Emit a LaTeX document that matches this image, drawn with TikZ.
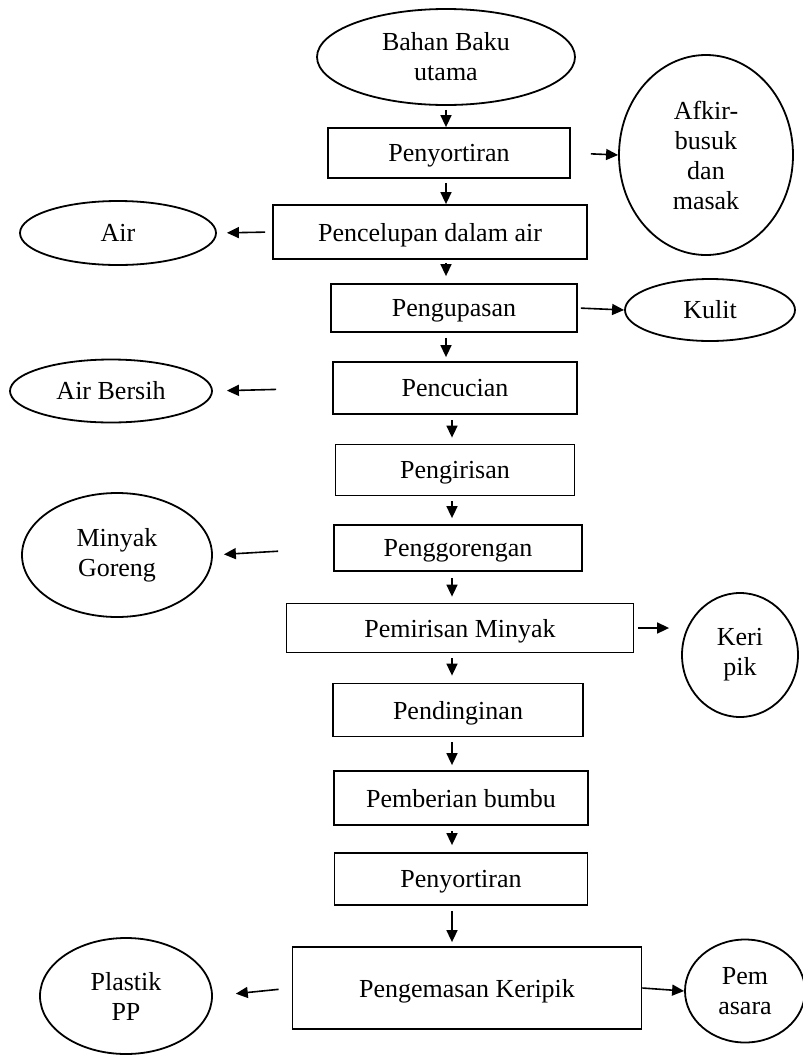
\documentclass[tikz,border=0pt]{standalone}
\usepackage{fontspec}
\setmainfont{Liberation Serif}
\usetikzlibrary{shapes.geometric,arrows.meta}
\begin{document}
\begin{tikzpicture}[x=0.5pt,y=-0.5pt,
  font=\fontsize{13}{15}\selectfont,
  proses/.style={draw, line width=0.9pt, inner sep=0pt, text depth=0pt},
  hasil/.style={draw, ellipse, line width=0.9pt, inner sep=0pt, align=center},
  panah/.style={line width=0.8pt, -{Triangle[length=6pt,width=5.5pt]}}]
\useasboundingbox (0,0) rectangle (803,1055);
\coordinate (jalur) at (446,0);
\coordinate (jalurb) at (452,0);
\node[hasil, minimum width=129pt, minimum height=48pt] (bahan) at (446,57) {Bahan Baku\\utama};
\node[proses, minimum width=121pt, minimum height=25pt] (sortir) at (449,153) {Penyortiran};
\node[hasil, minimum width=87pt, minimum height=100pt] (afkir) at (706,155) {Afkir-\\busuk\\dan\\masak};
\node[proses, minimum width=157pt, minimum height=27pt] (celup) at (430,232) {Pencelupan dalam air};
\node[hasil, minimum width=98pt, minimum height=32pt] (air) at (118,233) {Air};
\node[proses, minimum width=123pt, minimum height=24pt] (kupas) at (454,308) {Pengupasan};
\node[hasil, minimum width=85pt, minimum height=31pt] (kulit) at (710,310) {Kulit};
\node[proses, minimum width=122pt, minimum height=26pt] (cuci) at (455,388) {Pencucian};
\node[hasil, minimum width=101pt, minimum height=31.5pt] (airbersih) at (111,391) {Air Bersih};
\node[proses, minimum width=119.5pt, minimum height=25.5pt] (iris) at (455,470) {Pengirisan};
\node[proses, minimum width=124pt, minimum height=23pt] (goreng) at (458,548) {Penggorengan};
\node[hasil, minimum width=95pt, minimum height=62pt] (minyak) at (117,555) {Minyak\\Goreng};
\node[proses, minimum width=173.5pt, minimum height=24.5pt] (tiris) at (460,628) {Pemirisan Minyak};
\node[hasil, minimum width=58pt, minimum height=62pt] (keripik) at (740,655) {Keri\\pik};
\node[proses, minimum width=125pt, minimum height=26.5pt] (dingin) at (458,710) {Pendinginan};
\node[proses, minimum width=127pt, minimum height=27pt] (bumbu) at (461,798) {Pemberian bumbu};
\node[proses, minimum width=126.5pt, minimum height=26pt] (sortir2) at (461,879) {Penyortiran};
\node[proses, minimum width=174.5pt, minimum height=41pt] (kemas) at (467,988) {Pengemasan Keripik};
\node[hasil, minimum width=60pt, minimum height=51.5pt] (pemasaran) at (745,991) {Pem\\asara};
\node[hasil, minimum width=86pt, minimum height=58pt] (plastik) at (126,996) {Plastik\\PP};
\draw[panah, shorten <=2pt] (bahan.south -| jalur) -- (sortir.north -| jalur);
\draw[panah, shorten <=2pt] (sortir.south -| jalur) -- (celup.north -| jalur);
\draw[panah, shorten <=1.5pt, shorten >=3.5pt] (celup.south -| jalur) -- (kupas.north -| jalur);
\draw[panah, shorten <=2.5pt, shorten >=2pt] (kupas.south -| jalur) -- (cuci.north -| jalur);
\draw[panah, shorten <=2.5pt, shorten >=3pt] (cuci.south -| jalurb) -- (iris.north -| jalurb);
\draw[panah, shorten <=2.5pt, shorten >=3pt] (iris.south -| jalurb) -- (goreng.north -| jalurb);
\draw[panah, shorten <=3pt, shorten >=3pt] (goreng.south -| jalurb) -- (tiris.north -| jalurb);
\draw[panah, shorten <=2.5pt, shorten >=3.5pt] (tiris.south -| jalurb) -- (dingin.north -| jalurb);
\draw[panah, shorten <=2.5pt, shorten >=2.5pt] (dingin.south -| jalurb) -- (bumbu.north -| jalurb);
\draw[panah, shorten <=2.5pt, shorten >=3.5pt] (bumbu.south -| jalurb) -- (sortir2.north -| jalurb);
\draw[panah, shorten <=2.5pt, shorten >=2pt] (sortir2.south -| jalurb) -- (kemas.north -| jalurb);
\draw[panah, shorten <=10pt] (sortir.east) -- (afkir.west);
\draw[panah, shorten <=3.5pt, shorten >=5pt] (celup.west) -- (air.east);
\draw[panah, shorten <=1.5pt] (kupas.east) -- (kulit.west);
\draw[panah, shorten <=28pt, shorten >=7pt] (cuci.west) -- (airbersih.east);
\draw[panah, shorten <=27.5pt, shorten >=5.5pt] (goreng.west) -- (minyak.east);
\draw[panah, shorten <=2pt, shorten >=6pt] (tiris.east) -- (tiris.east -| keripik.west);
\draw[panah] (kemas.east) -- (pemasaran.west);
\draw[panah, shorten <=6.5pt, shorten >=11.5pt] (kemas.west) -- (plastik.east);
\end{tikzpicture}
\end{document}
